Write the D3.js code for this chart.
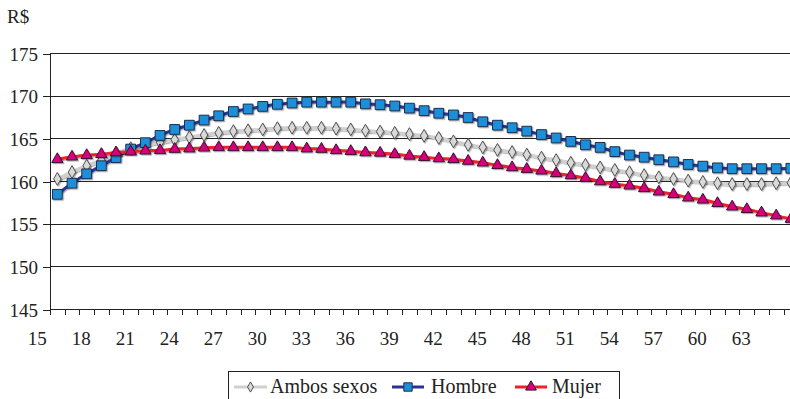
<!DOCTYPE html>
<html>
<head>
<meta charset="utf-8">
<script src="https://cdn.jsdelivr.net/npm/d3@7"></script>
<style>
html,body{margin:0;padding:0;background:#fff;overflow:hidden;}
svg text{font-family:"Liberation Serif","Times New Roman",Tinos,"DejaVu Serif",serif !important;}
</style>
</head>
<body>
<svg id="chart" width="790" height="399"></svg>
<script>
const ages = d3.range(16, 67);
const ambosSexos = [160.3,161.1,161.85,162.5,163.3,163.9,164.3,164.6,164.9,165.2,
  165.45,165.7,165.9,166.0,166.1,166.25,166.3,166.3,166.3,166.2,166.1,165.95,165.85,165.7,165.55,165.35,165.1,
  164.7,164.3,164.0,163.7,163.45,163.15,162.8,162.5,162.2,161.95,161.65,161.35,161.1,160.75,160.5,160.3,160.1,159.95,159.8,159.7,159.7,159.7,159.8,159.85];
const hombre = [158.5,159.8,160.9,161.85,162.8,163.8,164.55,165.4,166.1,166.6,
  167.2,167.7,168.2,168.5,168.8,169.05,169.2,169.3,169.3,169.3,169.3,169.1,169.0,168.85,168.6,168.3,168.0,
  167.8,167.5,167.0,166.6,166.3,165.9,165.5,165.1,164.7,164.3,164.0,163.5,163.1,162.85,162.55,162.3,162.0,161.8,161.6,161.5,161.5,161.5,161.5,161.55];
const mujer = [162.6,162.9,163.07,163.2,163.4,163.5,163.6,163.65,163.8,163.85,
  163.95,164.0,164.0,164.0,164.0,164.0,164.0,163.85,163.8,163.65,163.55,163.4,163.35,163.2,163.0,162.85,162.7,
  162.6,162.4,162.2,161.9,161.65,161.45,161.25,160.95,160.7,160.4,160.0,159.7,159.5,159.2,158.8,158.5,158.1,157.85,157.45,157.05,156.75,156.35,156.0,155.6];
const seriesNames = ["Ambos sexos", "Hombre", "Mujer"];
const xTickLabels = d3.range(15, 64, 3);
const yTicks = [145,150,155,160,165,170,175];
const unitLabel = "R$";

const svg = d3.select("#chart");
const pLeft = 50, pRight = 50 + 51*14.67, pTop = 53.5, pBottom = 309.5;
const x = d3.scaleLinear().domain([15.5, 66.5]).range([pLeft, pRight]);
const y = d3.scaleLinear().domain([145, 175]).range([pBottom, pTop]);

const defs = svg.append("defs");
const f = defs.append("filter").attr("id","sh").attr("x","-20%").attr("y","-20%").attr("width","140%").attr("height","140%");
f.append("feDropShadow").attr("dx",1.2).attr("dy",1.2).attr("stdDeviation",0.6).attr("flood-color","#000").attr("flood-opacity",0.3);

// unit label
svg.append("text").attr("x",7).attr("y",23).attr("font-size",19).attr("fill","#222").text(unitLabel);

// gridlines
svg.append("g").selectAll("line").data(yTicks.filter(d=>d>145)).join("line")
  .attr("x1",pLeft).attr("x2",790).attr("y1",d=>y(d)).attr("y2",d=>y(d))
  .attr("stroke","#222").attr("stroke-width",1).attr("shape-rendering","crispEdges");

// y axis
const yAxis = svg.append("g").attr("transform",`translate(${pLeft},0)`)
  .call(d3.axisLeft(y).tickValues(yTicks).tickSize(7).tickPadding(5).tickFormat(d3.format("d")));
yAxis.attr("font-family",null);
yAxis.select(".domain").attr("stroke","#222").attr("shape-rendering","crispEdges");
yAxis.selectAll(".tick line").attr("stroke","#222").attr("shape-rendering","crispEdges");
yAxis.selectAll("text").attr("font-size",19).attr("fill","#222").attr("dy","0.35em");

// x axis minor ticks (category boundaries)
const xAxis = svg.append("g").attr("transform",`translate(0,${pBottom})`)
  .call(d3.axisBottom(x).tickValues(d3.range(15.5, 67, 1)).tickSize(5).tickFormat(""));
xAxis.select(".domain").remove();
xAxis.selectAll(".tick line").attr("stroke","#222").attr("shape-rendering","crispEdges");
svg.append("line").attr("x1",pLeft).attr("x2",790).attr("y1",pBottom).attr("y2",pBottom)
  .attr("stroke","#222").attr("shape-rendering","crispEdges");

// x labels
const xLab = svg.append("g").attr("transform",`translate(-6,${pBottom})`)
  .call(d3.axisBottom(x).tickValues(xTickLabels).tickSize(0).tickPadding(22).tickFormat(d3.format("d")));
xLab.attr("font-family",null);
xLab.select(".domain").remove();
xLab.selectAll("text").attr("font-size",19).attr("fill","#222");

const series = [
  {name: seriesNames[0], values: ambosSexos, line:"#d0d0d0", lw:3.5, fill:"#d9d9d9", stroke:"#505050", shape:d3.symbolDiamond, size:48},
  {name: seriesNames[1], values: hombre, line:"#2e3192", lw:3, fill:"#1b8fd8", stroke:"#1c2e4a", shape:d3.symbolSquare, size:95},
  {name: seriesNames[2], values: mujer, line:"#f0202a", lw:3, fill:"#d6007c", stroke:"#3a1030", shape:d3.symbolTriangle, size:55}
];

const plot = svg.append("g");
const line = d3.line().x((d,i)=>x(ages[i])).y(d=>y(d)).curve(d3.curveCatmullRom);
series.forEach(s=>{
  const g = plot.append("g");
  g.append("path").datum(s.values).attr("d",line).attr("fill","none")
    .attr("stroke",s.line).attr("stroke-width",s.lw).attr("filter","url(#sh)");
  g.selectAll("path.m").data(s.values).join("path").attr("class","m")
    .attr("d", d3.symbol().type(s.shape).size(s.size))
    .attr("transform",(d,i)=>`translate(${x(ages[i])},${y(d)})`)
    .attr("fill",s.fill).attr("stroke",s.stroke).attr("stroke-width",1).attr("filter","url(#sh)");
});

// legend
const lg = svg.append("g");
lg.append("rect").attr("x",228.5).attr("y",371.5).attr("width",391).attr("height",40)
  .attr("fill","#fff").attr("stroke","#222").attr("stroke-width",1);
const legendPos = [{x0:234,x1:267,tx:270},{x0:392,x1:424,tx:431},{x0:515,x1:547,tx:552}];
series.forEach((s,i)=>{
  const p = legendPos[i];
  const cy = 387;
  lg.append("line").attr("x1",p.x0).attr("x2",p.x1).attr("y1",cy).attr("y2",cy)
    .attr("stroke",s.line).attr("stroke-width",3);
  lg.append("path").attr("d", d3.symbol().type(s.shape).size(i===0?30:(i===1?70:50)))
    .attr("transform",`translate(${(p.x0+p.x1)/2},${cy})`)
    .attr("fill",s.fill).attr("stroke",s.stroke).attr("stroke-width",1);
  lg.append("text").attr("x",p.tx).attr("y",393).attr("font-size",20).attr("fill","#222").text(s.name);
});
</script>
</body>
</html>
